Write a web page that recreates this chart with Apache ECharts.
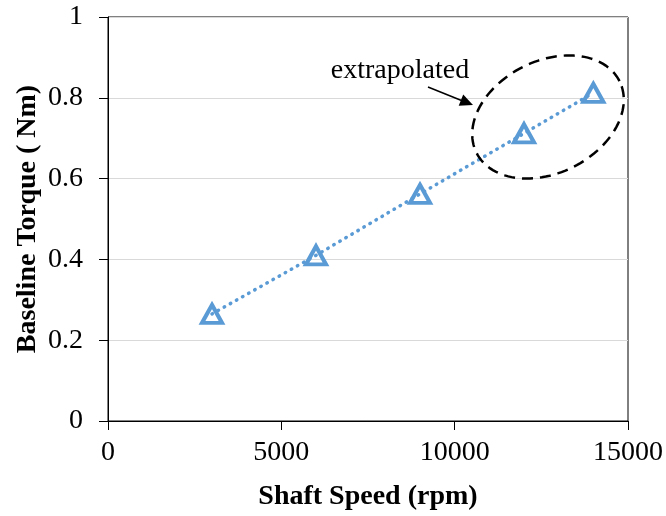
<!DOCTYPE html>
<html>
<head>
<meta charset="utf-8">
<script src="https://cdn.jsdelivr.net/npm/echarts@6/dist/echarts.min.js"></script>
<style>html,body{margin:0;padding:0;background:#fff;}#c{width:666px;height:516px;}</style>
</head>
<body>
<div id="c"></div>
<script>
var shaftSpeed = [3000, 6000, 9000, 12000, 14000];
var torque = [0.265, 0.41, 0.562, 0.712, 0.812];
var xTicks = [0, 5000, 10000, 15000];
var yTicks = [0, 0.2, 0.4, 0.6, 0.8, 1];

var FONT = '"Liberation Serif", "Times New Roman", serif';
var chart = echarts.init(document.getElementById('c'), null, {renderer: 'canvas'});

// ellipse annotation points
var ell = [];
var cx = 548, cy = 117, a = 80, b = 56, th = 26.6 * Math.PI / 180;
for (var i = 0; i <= 120; i++) {
  var t = i / 120 * 2 * Math.PI;
  var px = a * Math.cos(t), py = b * Math.sin(t);
  ell.push([cx + px * Math.cos(th) - py * Math.sin(th), cy - (px * Math.sin(th) + py * Math.cos(th))]);
}

chart.setOption({
  backgroundColor: '#fff',
  animation: false,
  grid: {left: 108, right: 38, top: 17, bottom: 94, show: true, borderColor: '#000', borderWidth: 1, containLabel: false},
  xAxis: {
    type: 'value', min: 0, max: 15000, interval: 5000,
    name: 'Shaft Speed (rpm)', nameLocation: 'middle', nameGap: 62,
    nameTextStyle: {fontFamily: FONT, fontWeight: 'bold', fontSize: 28, color: '#000'},
    axisLine: {show: true, lineStyle: {color: '#000', width: 1}},
    axisTick: {show: true, length: 9, inside: false, lineStyle: {color: '#000'}},
    axisLabel: {fontFamily: FONT, fontSize: 28, color: '#000', margin: 18,
      formatter: function (v) { return xTicks.indexOf(v) >= 0 ? String(v) : ''; }},
    splitLine: {show: false}
  },
  yAxis: {
    type: 'value', min: 0, max: 1, interval: 0.2,
    name: 'Baseline Torque ( Nm)', nameLocation: 'middle', nameGap: 66, nameRotate: 90,
    nameMoveOverlap: false,
    nameTextStyle: {fontFamily: FONT, fontWeight: 'bold', fontSize: 28, color: '#000'},
    axisLine: {show: true, lineStyle: {color: '#000', width: 1}},
    axisTick: {show: true, length: 9, inside: false, lineStyle: {color: '#000'}},
    axisLabel: {fontFamily: FONT, fontSize: 28, color: '#000', margin: 25,
      formatter: function (v) {
        for (var k = 0; k < yTicks.length; k++) { if (Math.abs(yTicks[k] - v) < 1e-9) return String(yTicks[k]); }
        return '';
      }},
    splitLine: {show: true, lineStyle: {color: '#d9d9d9', width: 1}}
  },
  series: [{
    type: 'line',
    data: shaftSpeed.map(function (x, i) { return [x, torque[i]]; }),
    symbol: 'triangle',
    symbolSize: [20, 18],
    showSymbol: true,
    lineStyle: {color: '#5B9BD5', width: 3.5, type: [0.5, 6.5], cap: 'round'},
    itemStyle: {color: 'rgba(255,255,255,0)', borderColor: '#5B9BD5', borderWidth: 4},
    z: 3
  }],
  graphic: [
    {type: 'polyline', shape: {points: ell}, style: {fill: null, stroke: '#000', lineWidth: 2.5, lineDash: [11, 7]}, z: 10},
    {type: 'text', x: 400, y: 71, style: {text: 'extrapolated', font: '28px ' + FONT, fill: '#000', textAlign: 'center', textVerticalAlign: 'middle'}, z: 10},
    {type: 'line', shape: {x1: 428, y1: 87, x2: 464, y2: 101.5}, style: {stroke: '#000', lineWidth: 1.5}, z: 10},
    {type: 'polygon', shape: {points: [[473, 105], [458.7, 105.8], [463.2, 94.6]]}, style: {fill: '#000', stroke: null}, z: 10}
  ]
});
</script>
</body>
</html>
